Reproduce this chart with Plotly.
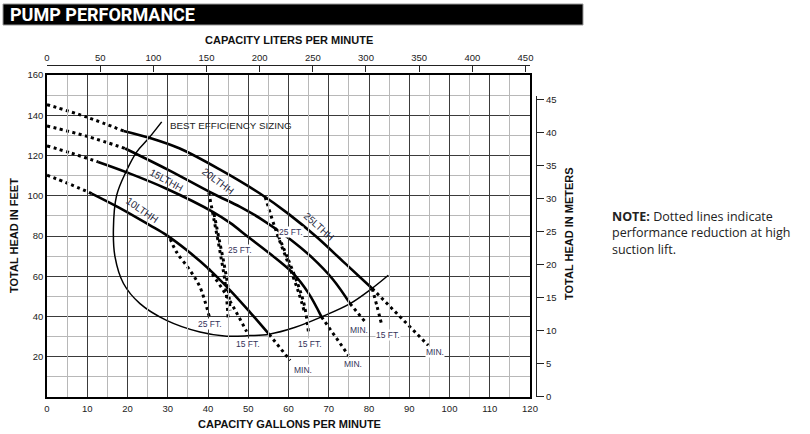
import plotly.graph_objects as go

# ---------------- data (gpm, feet) ----------------
# dotted lead-in portions (shut-off region)
lead_10_x = [0, 5, 11.1]
lead_10_y = [110.2, 106.3, 101.1]
lead_15_x = [0, 6, 12.7]
lead_15_y = [124.8, 121.2, 116.8]
lead_20_x = [0, 10, 19.4]
lead_20_y = [134.7, 129.5, 123.5]
lead_25_x = [0, 10, 19]
lead_25_y = [145.3, 139.0, 132.2]

# solid pump curves
c10_x = [11.1, 18, 25.6, 29.7, 35, 40.1, 45.5, 50.4, 55.2]
c10_y = [101.1, 94.0, 85.3, 80.4, 72.5, 63.8, 53.0, 42.2, 31.1]
c15_x = [12.7, 20, 29.7, 41.3, 45.5, 50, 55.5, 61.2, 65, 68.2]
c15_y = [116.8, 111.5, 103.5, 91.9, 86.5, 79.5, 71.0, 61.3, 51.5, 39.8]
c20_x = [19.4, 30, 41.3, 48, 53.7, 60, 66, 71, 75.3]
c20_y = [123.5, 113.0, 101.0, 94.5, 87.8, 79.0, 69.0, 58.5, 46.4]
c25_x = [19, 26, 33, 43, 53, 60, 67, 74, 80.8]
c25_y = [132.2, 128.5, 123.5, 113.0, 101.0, 91.0, 79.5, 66.5, 53.9]

# "MIN." extensions
min10_x = [55.2, 60.4]
min10_y = [31.1, 18.2]
min15_x = [68.2, 74.9]
min15_y = [39.8, 20.7]
min20_x = [75.3, 79.4]
min20_y = [46.4, 36.5]
min25_x = [80.8, 94.7]
min25_y = [53.9, 25.7]

# suction lift branches
b10_25_x = [30.6, 32.2, 35.5, 38.0, 40.3]
b10_25_y = [78.5, 72.0, 63.0, 54.7, 40.0]
b10_15_x = [40.1, 43.8, 46.3, 49.6]
b10_15_y = [63.8, 53.0, 44.7, 32.5]
b20_25_x = [40.2, 41.5, 43.0, 44.3, 45.0]
b20_25_y = [101.6, 88.0, 72.0, 56.0, 39.0]
b15_25_x = [41.5, 42.8, 44.0, 45.0, 45.5]
b15_25_y = [91.0, 78.0, 66.0, 54.0, 43.0]
b25_25_x = [54.2, 57.0, 60.0, 62.5, 64.0]
b25_25_y = [99.4, 82.0, 66.0, 52.0, 42.0]
b20_15_x = [57.5, 60.0, 62.5, 64.0, 65.0]
b20_15_y = [80.0, 68.0, 55.0, 45.0, 31.5]
b25_15_x = [80.8, 82.0, 83.2]
b25_15_y = [53.9, 45.0, 35.6]

# best efficiency sizing curve
bes_x = [28.5, 25.2, 22.3, 19.6, 17.3, 16.5, 16.9, 19.0, 23.1, 29.7, 38.0, 44.6, 50.4, 55.2, 61.5, 68.2, 75.3, 80.7, 84.8]
bes_y = [136.7, 128.4, 121.8, 111.8, 100.2, 83.5, 69.6, 56.4, 46.4, 38.1, 32.3, 30.2, 30.5, 31.2, 34.5, 39.8, 46.4, 53.9, 60.5]

# labels
pump_names = ["10LTHH", "15LTHH", "20LTHH", "25LTHH"]
pump_lab_x = [23.8, 29.8, 42.6, 67.6]
pump_lab_y = [92.8, 107.5, 107.3, 84.9]
pump_lab_ang = [35, 29, 37, 42]

small_txt = ["25 FT.", "15 FT.", "25 FT.", "25 FT.", "15 FT.", "15 FT.", "MIN.", "MIN.", "MIN.", "MIN."]
small_x = [40.4, 50.0, 48.0, 60.6, 65.3, 84.8, 63.5, 75.9, 77.4, 96.4]
small_y = [36.1, 26.5, 72.9, 82.0, 26.2, 31.0, 13.6, 16.3, 33.2, 22.4]

note_lines = ["<b>NOTE:</b> Dotted lines indicate", "performance reduction at high", "suction lift."]

gpm_ticks = list(range(0, 121, 10))
ft_ticks = list(range(20, 161, 20))
lpm_ticks = list(range(0, 451, 50))
m_ticks = list(range(0, 46, 5))

GAL_TO_L = 3.78541
FT_PER_M = 3.28084

# ---------------- figure ----------------
fig = go.Figure()
SOLID = dict(color="black", width=2.6)
DOT = dict(color="black", width=3, dash="3px,3.5px")


def add(x, y, line, shape="spline"):
    fig.add_trace(go.Scatter(x=x, y=y, mode="lines", line=dict(**line, shape=shape),
                             hoverinfo="skip", showlegend=False))


for lx, ly in [(lead_10_x, lead_10_y), (lead_15_x, lead_15_y), (lead_20_x, lead_20_y), (lead_25_x, lead_25_y),
               (min10_x, min10_y), (min15_x, min15_y), (min20_x, min20_y), (min25_x, min25_y),
               (b10_25_x, b10_25_y), (b10_15_x, b10_15_y), (b20_25_x, b20_25_y), (b15_25_x, b15_25_y),
               (b25_25_x, b25_25_y), (b20_15_x, b20_15_y), (b25_15_x, b25_15_y)]:
    add(lx, ly, DOT)

add(bes_x, bes_y, dict(color="black", width=1.5))
for cx, cy in [(c10_x, c10_y), (c15_x, c15_y), (c20_x, c20_y), (c25_x, c25_y)]:
    add(cx, cy, SOLID)

# dummy traces for secondary axes
fig.add_trace(go.Scatter(x=[0], y=[0], xaxis="x2", yaxis="y", mode="markers",
                         marker=dict(opacity=0), hoverinfo="skip", showlegend=False))
fig.add_trace(go.Scatter(x=[0], y=[0], xaxis="x", yaxis="y2", mode="markers",
                         marker=dict(opacity=0), hoverinfo="skip", showlegend=False))

L, R, T, B = 47, 274, 65, 37
W, H = 810, 434
pw = W - L - R
ph = H - T - B
xdom_end = (530 - L) / pw
ydom_end = (397 - 75) / ph
m_top = 45.6

TICKFONT = dict(family="Arial, Liberation Sans", size=9.5, color="#222")

fig.update_layout(
    width=W, height=H,
    margin=dict(l=L, r=R, t=T, b=B),
    paper_bgcolor="white", plot_bgcolor="rgba(0,0,0,0)",
    font=dict(family="Arial, Liberation Sans"),
    xaxis=dict(domain=[0, xdom_end], range=[0, 120], tickvals=gpm_ticks, ticks="",
               showgrid=True, gridcolor="#3a3a3a", gridwidth=1,
               minor=dict(dtick=5, showgrid=True, gridcolor="#b8b8b8", gridwidth=1.2),
               showline=True, linecolor="black", linewidth=1.5, mirror=True,
               zeroline=False, tickfont=TICKFONT, ticklabelstandoff=2),
    yaxis=dict(domain=[0, ydom_end], range=[0, 160], tickvals=ft_ticks, ticks="",
               showgrid=True, gridcolor="#3a3a3a", gridwidth=1,
               minor=dict(dtick=10, showgrid=True, gridcolor="#b8b8b8", gridwidth=1.2),
               showline=True, linecolor="black", linewidth=1.5, mirror=True,
               zeroline=False, tickfont=TICKFONT),
    xaxis2=dict(overlaying="x", side="top", anchor="free", position=1,
                range=[0, 120 * GAL_TO_L], tickvals=lpm_ticks, ticks="inside", ticklen=6,
                tickcolor="#222", showgrid=False, showline=True, linecolor="#222", linewidth=1,
                zeroline=False, tickfont=TICKFONT),
    yaxis2=dict(domain=[0, ydom_end * m_top / (160 / FT_PER_M)], anchor="free", position=1,
                side="right", range=[0, m_top], tickvals=m_ticks, ticks="outside", ticklen=7,
                tickcolor="#222", showgrid=False, showline=True, linecolor="#222", linewidth=1,
                zeroline=False, tickfont=TICKFONT),
)


def px2paper_x(px):
    return (px - L) / pw


def py2paper_y(py):
    return (H - B - py) / ph


# title bar
fig.add_shape(type="rect", xref="paper", yref="paper",
              x0=px2paper_x(3), x1=px2paper_x(583), y0=py2paper_y(25), y1=py2paper_y(4),
              fillcolor="black", line=dict(color="#999", width=1), layer="above")
fig.add_annotation(xref="paper", yref="paper", x=px2paper_x(8), y=py2paper_y(14.5),
                   text="<b>PUMP PERFORMANCE</b>", showarrow=False, xanchor="left", yanchor="middle",
                   font=dict(family="Roboto", size=18, color="white"))

TITLEF = dict(family="Arial, Liberation Sans", size=11, color="#111")
for txt, px, py, ang in [("CAPACITY LITERS PER MINUTE", 289, 40, 0),
                         ("CAPACITY GALLONS PER MINUTE", 289, 424, 0),
                         ("TOTAL HEAD IN FEET", 14, 236, -90),
                         ("TOTAL HEAD IN METERS", 569, 234, -90)]:
    fig.add_annotation(xref="paper", yref="paper", x=px2paper_x(px), y=py2paper_y(py),
                       text="<b>" + txt + "</b>", showarrow=False, textangle=ang,
                       xanchor="center", yanchor="middle", font=TITLEF)

NOTEF = dict(family="Open Sans", size=12.5, color="#222")
fig.add_annotation(xref="paper", yref="paper", x=px2paper_x(611), y=py2paper_y(233),
                   text="<br>".join(note_lines), showarrow=False, xanchor="left", yanchor="middle",
                   align="left", font=NOTEF, borderpad=0)

LABF = dict(family="Arial, Liberation Sans", size=10, color="#262840")
for n, x, y, a in zip(pump_names, pump_lab_x, pump_lab_y, pump_lab_ang):
    fig.add_annotation(x=x, y=y, xref="x", yref="y", text=n, showarrow=False, textangle=a, font=LABF)

fig.add_annotation(x=30, y=134.7, xref="x", yref="y", text="BEST EFFICIENCY SIZING", showarrow=False,
                   xanchor="left", yanchor="middle", font=dict(family="Arial, Liberation Sans", size=9.8, color="#222"))

SMF = dict(family="Arial, Liberation Sans", size=8.5, color="#33345a")
for t, x, y in zip(small_txt, small_x, small_y):
    fig.add_annotation(x=x, y=y, xref="x", yref="y", text=t, showarrow=False, font=SMF, bgcolor="white", borderpad=0)

fig.write_html("out.html")
